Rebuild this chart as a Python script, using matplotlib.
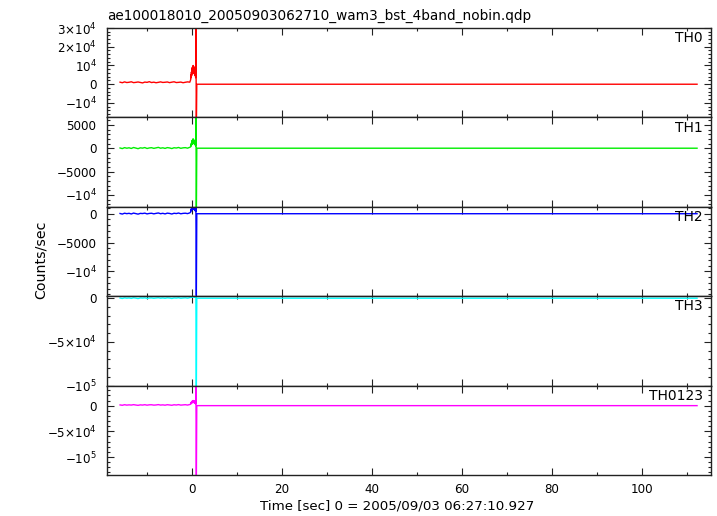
import matplotlib
matplotlib.use('Agg')
from matplotlib import pyplot as plt
from matplotlib.ticker import FixedLocator, FixedFormatter, MultipleLocator

plt.rcParams['font.family'] = ['DejaVu Sans']
plt.rcParams['font.size'] = 8.6
plt.rcParams['mathtext.fontset'] = 'dejavusans'

title = 'ae100018010_20050903062710_wam3_bst_4band_nobin.qdp'
xlabel = 'Time [sec] 0 = 2005/09/03 06:27:10.927'
ylabel = 'Counts/sec'
panel_names = ['TH0', 'TH1', 'TH2', 'TH3', 'TH0123']
colors = ['#ff0000', '#00ee00', '#0000ff', '#00ffff', '#ff00ff']

# pre-burst background, 0.5 s bins from -16 s
t_pre = [-16.0 + 0.5 * i for i in range(32)]
# burst, 0.05 s bins from -0.3 s to 0.8 s
t_burst = [round(-0.3 + 0.05 * i, 2) for i in range(23)]
# spike and flat tail
t_tail = [0.85, 0.95, 1.05, 112.2]

th0_pre = [1100, 800, 1250, 900, 1050, 1300, 850, 1000, 1200, 950, 700, 1150, 1000, 1350, 900, 1100,
           800, 1000, 1250, 950, 1050, 1200, 850, 1100, 1300, 900, 1000, 1150, 800, 1050, 1250, 1100]
th0_burst = [2500, 5000, 3500, 6500, 4500, 8000, 5500, 9000, 6000, 9500, 6500, 10000,
             7000, 9500, 6000, 9000, 5500, 8500, 5000, 8000, 4500, 7000, 3500]
th0_tail = [35000, -25000, 0, 0]

th1_pre = [50, -80, 120, 0, 90, -50, 150, 30, -100, 80, 20, 140, -60, 60, 110, -30,
           70, 180, 0, 90, -40, 130, 60, -70, 100, 40, 160, -20, 80, 120, 10, 200]
th1_burst = [300, 800, 500, 1100, 700, 1500, 900, 1700, 1000, 1900, 1100, 2000,
             1200, 1800, 1000, 1700, 900, 1500, 800, 1400, 700, 1200, 500]
th1_tail = [9000, -15000, 0, 0]

th2_pre = [40, -60, 90, 10, 70, -40, 110, 20, -70, 60, 30, 100, -30, 50, 80, -20,
           60, 130, 0, 70, -30, 100, 50, -50, 80, 30, 120, -10, 60, 90, 20, 150]
th2_burst = [300, 700, 500, 900, 600, 1000, 700, 1100, 800, 1100, 800, 1200,
             900, 1100, 800, 1100, 700, 1000, 600, 1000, 500, 900, 400]
th2_tail = [1500, -14200, 0, 0]

th3_pre = [200, -300, 400, 0, 300, -200, 500, 100, -400, 300, 100, 400, -200, 200, 300, -100,
           200, 500, 0, 300, -100, 400, 200, -300, 300, 100, 500, -100, 200, 400, 0, 600]
th3_burst = [800, 1500, 1100, 1900, 1300, 2200, 1500, 2400, 1600, 2500, 1700, 2600,
             1800, 2400, 1600, 2300, 1500, 2100, 1300, 2000, 1200, 1800, 1000]
th3_tail = [2500, -110000, 0, 0]

th0123_pre = [1400, 700, 1800, 1000, 1500, 1100, 1900, 1200, 600, 1500, 1100, 1800, 900, 1600, 1700, 1000,
              1300, 2000, 1100, 1500, 900, 1800, 1300, 700, 1700, 1200, 2000, 1000, 1400, 1800, 1100, 2200]
th0123_burst = [3000, 5500, 4000, 7000, 5000, 8000, 5500, 9000, 6000, 9500, 6500, 10000,
                7000, 9500, 6000, 9000, 5500, 8500, 5000, 8000, 4500, 7000, 3500]
th0123_tail = [45000, -150000, 0, 0]

panel_values = [
    th0_pre + th0_burst + th0_tail,
    th1_pre + th1_burst + th1_tail,
    th2_pre + th2_burst + th2_tail,
    th3_pre + th3_burst + th3_tail,
    th0123_pre + th0123_burst + th0123_tail,
]

ylims = [(-17700, 30000), (-12550, 6600), (-14300, 1200), (-100000, 2300), (-135000, 39000)]
ytick_vals = [
    [30000, 20000, 10000, 0, -10000],
    [5000, 0, -5000, -10000],
    [0, -5000, -10000],
    [0, -50000, -100000],
    [0, -50000, -100000],
]
ytick_labels = [
    [r'$3{\times}10^{4}$', r'$2{\times}10^{4}$', r'$10^{4}$', '0', r'$-10^{4}$'],
    ['5000', '0', '\u22125000', r'$-10^{4}$'],
    ['0', '\u22125000', r'$-10^{4}$'],
    ['0', r'$-5{\times}10^{4}$', r'$-10^{5}$'],
    ['0', r'$-5{\times}10^{4}$', r'$-10^{5}$'],
]
yminor_steps = [2000, 1000, 1000, 10000, 10000]
xticks = [0, 20, 40, 60, 80, 100]

fig, axes = plt.subplots(5, 1, figsize=(7.17, 5.16), dpi=100, sharex=True,
                         gridspec_kw={'hspace': 0})
fig.subplots_adjust(left=107 / 717, right=711 / 717, top=1 - 28 / 516, bottom=1 - 475 / 516)

t = t_pre + t_burst + t_tail
for i, ax in enumerate(axes):
    ax.plot(t, panel_values[i], color=colors[i], lw=1.0)
    ax.set_xlim(-18.9, 115.3)
    ax.set_ylim(*ylims[i])
    ax.yaxis.set_major_locator(FixedLocator(ytick_vals[i]))
    ax.yaxis.set_major_formatter(FixedFormatter(ytick_labels[i]))
    ax.yaxis.set_minor_locator(MultipleLocator(yminor_steps[i]))
    ax.xaxis.set_major_locator(FixedLocator(xticks))
    ax.xaxis.set_minor_locator(MultipleLocator(10))
    ax.tick_params(which='both', direction='in', top=True, right=True, width=0.8, colors='#222222',
                   labelcolor='black')
    ax.tick_params(which='major', length=5)
    ax.tick_params(which='minor', length=2.5)
    ax.tick_params(axis='y', pad=7.5)
    for s in ax.spines.values():
        s.set_linewidth(1.0)
        s.set_color('#222222')
    ax.text(0.986, 0.885, panel_names[i], transform=ax.transAxes, ha='right', va='center', fontsize=10)

axes[-1].tick_params(axis='x', pad=6)
fig.text(107 / 717, 1 - 19.5 / 516, title, ha='left', va='baseline', fontsize=9.8)
fig.text(0.057, 1 - 260 / 516, ylabel, rotation=90, ha='center', va='center', fontsize=10.2)
fig.text(397 / 717, 1 - 506 / 516, xlabel, ha='center', va='center', fontsize=9.6)

fig.savefig('out.png', dpi=100)
